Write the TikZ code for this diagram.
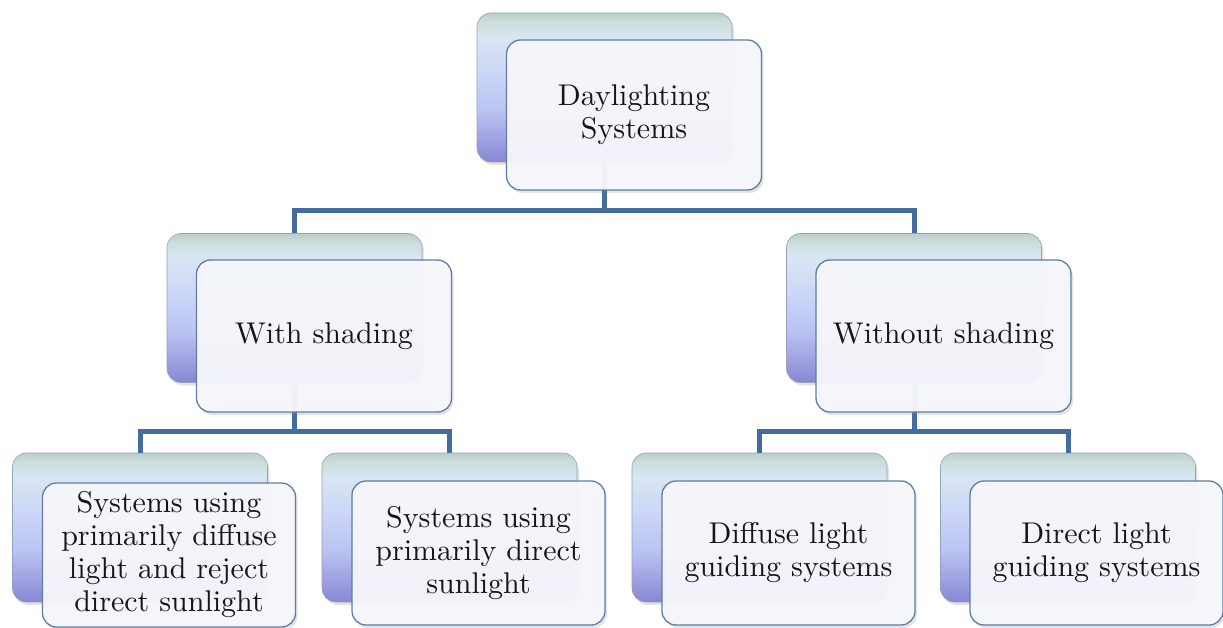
\documentclass[tikz,border=0pt]{standalone}
\usepackage{fontspec}
\setmainfont{lmroman10-regular.otf}
\usetikzlibrary{shadows}
\definecolor{connc}{RGB}{68,108,158}
\definecolor{frontdraw}{RGB}{95,125,165}
\definecolor{frontfill}{RGB}{247,248,252}
\definecolor{backdraw}{RGB}{150,160,185}
\definecolor{txt}{RGB}{22,22,26}
\pgfdeclareverticalshading{backshade}{100bp}{
  rgb(0bp)=(0.53,0.53,0.82);
  rgb(25bp)=(0.53,0.53,0.82);
  rgb(31bp)=(0.60,0.61,0.87);
  rgb(42bp)=(0.73,0.76,0.95);
  rgb(55bp)=(0.80,0.84,0.97);
  rgb(67bp)=(0.85,0.90,0.95);
  rgb(72bp)=(0.80,0.87,0.86);
  rgb(75bp)=(0.73,0.81,0.80);
  rgb(100bp)=(0.73,0.81,0.80)}
\tikzset{
  backbox/.style={rectangle, rounded corners=14pt, minimum width=255pt, minimum height=149pt,
    draw=backdraw, line width=0.6pt, shading=backshade,
    drop shadow={shadow xshift=2pt, shadow yshift=-3pt, opacity=0.22}},
  frontbox/.style={rectangle, rounded corners=14pt, minimum width=255pt, minimum height=150pt,
    draw=frontdraw, line width=1.3pt, fill=frontfill, fill opacity=0.95, text opacity=1,
    text=txt, align=center, font=\fontsize{30}{33}\selectfont,
    drop shadow={shadow xshift=2pt, shadow yshift=-3pt, opacity=0.22}},
  lowfront/.style={frontbox, minimum width=253pt, minimum height=144pt},
  conn/.style={draw=connc, line width=5pt}
}
\begin{document}
\begin{tikzpicture}[x=1pt,y=-1pt]
\useasboundingbox (0,0) rectangle (1223,628);
% back boxes
\node[backbox] (b0) at (604.5,87.5) {};
\node[backbox] (b1) at (294.5,308) {};
\node[backbox] (b2) at (914,308) {};
\node[backbox] (b3) at (140,527.5) {};
\node[backbox] (b4) at (449.5,527.5) {};
\node[backbox] (b5) at (759.5,527.5) {};
\node[backbox] (b6) at (1068,527.5) {};
% junctions
\coordinate (j0) at (604.5,211);
\coordinate (j1) at (294.5,431);
\coordinate (j2) at (914,431);
% connectors
\draw[conn] (b0.south) -- (j0) -| (b1.north);
\draw[conn] (j0) -| (b2.north);
\draw[conn] (b1.south) -- (j1) -| (b3.north);
\draw[conn] (j1) -| (b4.north);
\draw[conn] (b2.south) -- (j2) -| (b5.north);
\draw[conn] (j2) -| (b6.north);
% front boxes
\node[frontbox] (f0) at (634,115) {Daylighting\\Systems};
\node[frontbox, minimum height=152pt] (f1) at (324,336) {With shading};
\node[frontbox, minimum height=152pt] (f2) at (943.5,336) {Without shading};
\node[lowfront] (f3) at (169,555) {Systems using\\primarily diffuse\\light and reject\\direct sunlight};
\node[lowfront] (f4) at (478.5,553) {Systems using\\primarily direct\\sunlight};
\node[lowfront] (f5) at (788.5,553) {Diffuse light\\guiding systems};
\node[lowfront] (f6) at (1096.5,553) {Direct light\\guiding systems};
\end{tikzpicture}
\end{document}
